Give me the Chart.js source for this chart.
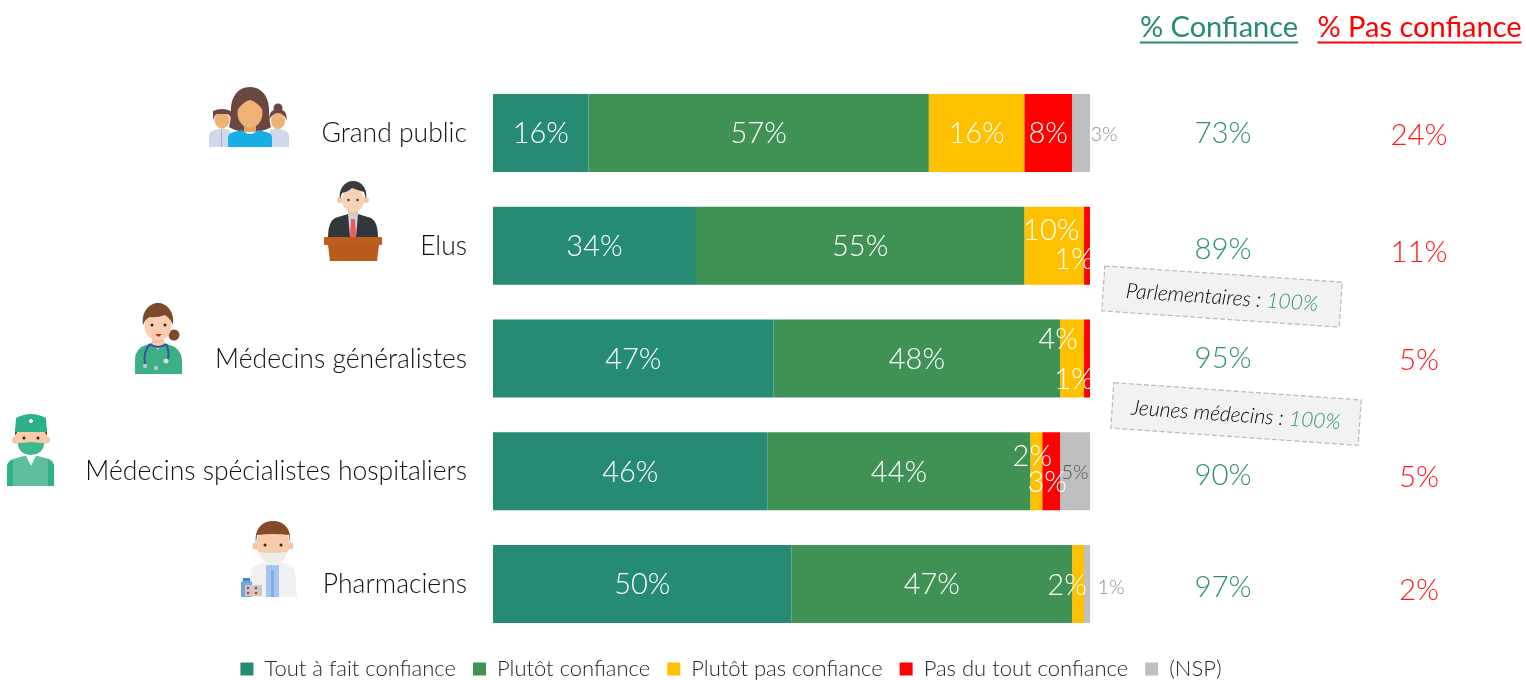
<!DOCTYPE html>
<html lang="fr"><head><meta charset="utf-8"><title>Confiance</title>
<script src="https://cdn.jsdelivr.net/npm/chart.js@4"></script>
<style>html,body{margin:0;padding:0;background:#fff;overflow:hidden}
#wrap{position:relative;width:1526px;height:680px}
canvas{position:absolute;left:0;top:0}
svg{position:absolute;left:0;top:0;pointer-events:none}</style></head>
<body><div id="wrap"><canvas id="c" width="1526" height="680"></canvas>
<svg width="1526" height="680" viewBox="0 0 1526 680">
 <!-- Grand public -->
 <g>
  <path d="M209 147v-11q0-5 6-6l7-2 8 2v17z" fill="#CFD9EA"/><rect x="221" y="130" width="1" height="17" fill="#9FB0C8"/>
  <ellipse cx="222" cy="120" rx="7.5" ry="8.5" fill="#EDB274"/><path d="M213 111q9-4 18 0v7q-2-4-4-4h-10q-2 0-4 6z" fill="#6B4742"/>
  <path d="M289 147v-11q0-5-6-6l-6-2-7 2v17z" fill="#CFD9EA"/>
  <ellipse cx="278" cy="121" rx="7" ry="8" fill="#EDB274"/><circle cx="278" cy="108" r="4.5" fill="#6B4742"/><path d="M269 120q0-11 9-11t9 11q-4-7-9-7t-9 7z" fill="#6B4742"/>
  <path d="M250 87c-13 0-19 11-19 23 0 8-1 13-2 17 4 3 13 5 21 5s17-2 21-5c-1-4-2-9-2-17 0-12-6-23-19-23z" fill="#6B4742"/>
  <path d="M228 147v-9q0-5 6-6l8-2q8 8 16 0l8 2q6 1 6 6v9z" fill="#17AEE6"/>
  <rect x="244" y="122" width="12" height="10" fill="#DFA364"/><ellipse cx="250" cy="113" rx="12.5" ry="15" fill="#EDB274"/><path d="M238 109q6-8 12-9 6 1 12 9v-8l-12-5-12 5z" fill="#6B4742"/>
 </g>
 <!-- Elus -->
 <g>
  <path d="M328 237q0-15 7-19l13-4h10l13 4q7 4 7 19z" fill="#33363A"/>
  <path d="M348 214h10l-2 23h-6z" fill="#C6D4EE"/><path d="M351 219h4l1 18h-6z" fill="#F05A50"/>
  <rect x="348" y="207" width="10" height="9" fill="#EAC3A4"/>
  <circle cx="340" cy="200" r="3" fill="#F2C8A8"/><circle cx="366" cy="200" r="3" fill="#F2C8A8"/>
  <ellipse cx="353" cy="200" rx="11" ry="12.5" fill="#F6D3B6"/>
  <path d="M340 199c-2-10 5-18 13-18s15 7 13 18l-2-7q-7-2-12-4-4 4-10 5z" fill="#3B3B3D"/>
  <circle cx="348.500" cy="200" r="1.200" fill="#3a2a20"/><circle cx="357.500" cy="200" r="1.200" fill="#3a2a20"/>
  <rect x="324" y="237" width="58" height="8" rx="1" fill="#BC5F1E"/><path d="M328 245h51l-2 16h-47z" fill="#B85B1D"/>
 </g>
 <!-- Médecins généralistes -->
 <g>
  <path d="M135 374v-14q0-12 11-15l7-2h10l7 2q11 3 12 15v14z" fill="#3CAF85"/>
  <rect x="152" y="335" width="12" height="10" fill="#F2BFA0"/><path d="M152 343l6 7 6-7z" fill="#F6CDB1"/>
  <circle cx="174" cy="335" r="5.500" fill="#7A4A2B"/>
  <ellipse cx="158" cy="326" rx="13.500" ry="14.500" fill="#F8CDB0"/>
  <path d="M143 325c-2-14 7-22 15-22s17 8 15 22q-3-7-8-10-8 3-15 2-5 2-7 8z" fill="#7A4A2B"/>
  <circle cx="152" cy="325" r="1.500" fill="#3a2018"/><circle cx="165" cy="325" r="1.500" fill="#3a2018"/><path d="M155 334h7l-3.500 3z" fill="#E81818"/>
  <path d="M150 344c-6 6-6 14-5 20M166 344c3 6 3 10 2 15M150 344q8 6 16 0" fill="none" stroke="#3553A4" stroke-width="2"/>
  <circle cx="145" cy="366" r="2.200" fill="#B9C3CE"/><circle cx="156" cy="368" r="2.200" fill="#B9C3CE"/><circle cx="166" cy="361" r="2.500" fill="#D5DBE2"/>
 </g>
 <!-- Médecins spécialistes -->
 <g>
  <path d="M7 486v-19q0-6 6-8l11-3h14l11 3q5 2 5 8v19z" fill="#5DBE9E"/>
  <path d="M7 486v-19q0-5 6-7v26zM54 486v-19q0-5-6-7v26z" fill="#2DB189"/>
  <path d="M26 456l5 10 5-10z" fill="#F3F7F5"/>
  <circle cx="15.500" cy="440" r="3.500" fill="#F6C4A0"/><circle cx="46.500" cy="440" r="3.500" fill="#F6C4A0"/>
  <rect x="16" y="424" width="30" height="25" rx="9" fill="#F8CBAA"/><path d="M15 428h32v8l-3-5h-26l-3 5z" fill="#7B4326"/>
  <path d="M15 432l1-14q8-4 15-4t15 4l1 14z" fill="#2DB18A"/><path d="M29 421h4M31 419v4" stroke="#fff" stroke-width="2.200"/>
  <circle cx="24" cy="438" r="1.500" fill="#3a2018"/><circle cx="38" cy="438" r="1.500" fill="#3a2018"/>
  <path d="M18 443q6 0 13-1 7 1 13 1 0 11-13 12-13-1-13-12z" fill="#3DB88F"/>
 </g>
 <!-- Pharmaciens -->
 <g>
  <path d="M248 597l3-26q1-5 8-7l9-2h10l9 2q7 2 8 7l2 26z" fill="#F1F1F1"/>
  <path d="M266 565h13v32h-13z" fill="#A3C6EE"/><path d="M271 570h3v27h-3z" fill="#7FAEE3"/>
  <circle cx="256" cy="546" r="3.500" fill="#F6C4A0"/><circle cx="290" cy="546" r="3.500" fill="#F6C4A0"/>
  <rect x="257" y="530" width="32" height="27" rx="10" fill="#F8CBAA"/><path d="M256 543c-2-15 7-22 17-22s19 7 17 22l-1-8q-16-2-32 0z" fill="#854A28"/>
  <circle cx="265" cy="545" r="1.500" fill="#3a2018"/><circle cx="281" cy="545" r="1.500" fill="#3a2018"/>
  <path d="M259 552q14 2 28 0-1 11-14 12-13-1-14-12z" fill="#EEEDEA"/>
  <rect x="241" y="581" width="11" height="16" rx="1.500" fill="#6FA7E6"/><rect x="243" y="578" width="7" height="3" fill="#3E83D4"/>
  <rect x="245" y="585" width="17" height="11" fill="#C9CDC5"/>
  <circle cx="248" cy="588" r="1.300" fill="#E8262B"/><circle cx="256" cy="588" r="1.300" fill="#E8262B"/><circle cx="248" cy="593" r="1.300" fill="#E8262B"/><circle cx="256" cy="593" r="1.300" fill="#E8262B"/>
 </g>
</svg></div>
<script>
const categories = ["Grand public", "Elus", "Médecins généralistes", "Médecins spécialistes hospitaliers", "Pharmaciens"];
const seriesNames = ["Tout à fait confiance", "Plutôt confiance", "Plutôt pas confiance", "Pas du tout confiance", "(NSP)"];
const toutAFait = [16, 34, 47, 46, 50];
const plutot = [57, 55, 48, 44, 47];
const plutotPas = [16, 10, 4, 2, 2];
const pasDuTout = [8, 1, 1, 3, 0];
const nsp = [3, 0, 0, 5, 1];
const pctConfiance = [73, 89, 95, 90, 97];
const pctPasConfiance = [24, 11, 5, 5, 2];
const colors = ["#268B73", "#3F9254", "#FFC000", "#FF0000", "#BFBFBF"];
const allSeries = [toutAFait, plutot, plutotPas, pasDuTout, nsp];

const FONT = "Lato, 'Open Sans', sans-serif";
const GREEN = "#2F9077", RED = "#FF1A1A";
// label nudges [series][row] => [dx, dy]
const nudges = {
  "2,1": [-3, -15], "3,1": [-13, 14],
  "2,2": [-14, -19], "3,2": [-13, 21],
  "2,3": [-4, -15], "3,3": [-4, 11],
  "2,4": [-11, 2],
  "4,0": [23, 2], "4,4": [24, 4]
};
const confDy = [1, 4, 0, 4.5, 4];
const pasDy = [3, 7, 2, 6.5, 7];

function note(ctx, cx, cy, w, h, deg, label, value) {
  ctx.save();
  ctx.translate(cx, cy); ctx.rotate(deg * Math.PI / 180);
  ctx.fillStyle = "#F2F2F2"; ctx.fillRect(-w / 2, -h / 2, w, h);
  ctx.strokeStyle = "#BDBDBD"; ctx.lineWidth = 1.3; ctx.setLineDash([5, 2.5]);
  ctx.strokeRect(-w / 2, -h / 2, w, h); ctx.setLineDash([]);
  ctx.font = "italic 300 21px " + FONT; ctx.textBaseline = "middle"; ctx.textAlign = "left";
  const a = ctx.measureText(label).width, b = ctx.measureText(value).width;
  const x = -(a + b) / 2;
  ctx.fillStyle = "#000"; ctx.fillText(label, x, 1);
  ctx.fillStyle = GREEN; ctx.fillText(value, x + a, 1);
  ctx.restore();
}
function header(ctx, text, cx, y, color) {
  ctx.font = "400 29px " + FONT; ctx.fillStyle = color; ctx.textAlign = "center"; ctx.textBaseline = "middle";
  ctx.fillText(text, cx, y);
  const w = ctx.measureText(text).width;
  ctx.fillRect(cx - w / 2, y + 13.5, w, 2);
}

const overlay = {
  id: "overlay",
  beforeLayout(chart) {
    const lg = chart.legend;
    if (lg && !lg._wrapped) {
      const f = lg.fit.bind(lg);
      lg.fit = function () { f(); lg.height = 39.65; };
      lg._wrapped = true;
    }
  },
  afterLayout(chart) {
    const lg = chart.legend;
    lg.left += 186; lg.right += 186;
    lg.top = 658 - lg.options.labels.padding;
  },
  afterDatasetsDraw(chart) {
    const ctx = chart.ctx, xs = chart.scales.x, ys = chart.scales.y;
    ctx.save();
    allSeries.forEach((vals, s) => {
      const meta = chart.getDatasetMeta(s);
      vals.forEach((v, r) => {
        if (!v) return;
        const bar = meta.data[r];
        const n = nudges[s + "," + r] || [0, 1];
        const mid = (bar.x + bar.base) / 2;
        ctx.textAlign = "center"; ctx.textBaseline = "middle";
        if (s === 4) {
          ctx.font = "300 20px " + FONT;
          ctx.fillStyle = r === 3 ? "#555" : "#8F8F8F";
        } else {
          ctx.font = "300 29px " + FONT;
          ctx.fillStyle = "#fff";
        }
        ctx.fillText(v + "%", mid + n[0], bar.y + n[1]);
      });
    });
    ctx.font = "300 29.5px " + FONT; ctx.textAlign = "center"; ctx.textBaseline = "middle";
    categories.forEach((c, r) => {
      const y = ys.getPixelForValue(r);
      ctx.fillStyle = GREEN; ctx.fillText(pctConfiance[r] + "%", 1223, y + confDy[r]);
      ctx.fillStyle = RED; ctx.fillText(pctPasConfiance[r] + "%", 1419, y + pasDy[r]);
    });
    header(ctx, "% Confiance", 1219, 28, "#268B73");
    header(ctx, "% Pas confiance", 1419.5, 28, "#FF0000");
    note(ctx, 1222, 296.5, 238, 45, 3.9, "Parlementaires : ", "100%");
    note(ctx, 1236, 414, 248, 45.5, 4, "Jeunes médecins : ", "100%");
    ctx.restore();
  }
};

new Chart(document.getElementById("c"), {
  type: "bar",
  plugins: [overlay],
  data: {
    labels: categories,
    datasets: allSeries.map((d, i) => ({
      label: seriesNames[i], data: d, backgroundColor: colors[i], borderWidth: 0,
      categoryPercentage: 1, barPercentage: 0.692
    }))
  },
  options: {
    indexAxis: "y", responsive: false, animation: false,
    layout: { padding: { top: 76.6, right: 436, left: 0, bottom: 0 } },
    scales: {
      x: { stacked: true, min: 0, max: 100, display: false, grid: { display: false } },
      y: {
        stacked: true, border: { display: false }, grid: { display: false, drawTicks: false },
        afterFit(s) { s.width = 493; s.paddingTop = 0; s.paddingBottom = 0; },
        ticks: { color: "#111", font: { family: FONT, size: 26.5, weight: "300" }, padding: 26, labelOffset: 0.5, autoSkip: false, crossAlign: "near" }
      }
    },
    plugins: {
      tooltip: { enabled: false },
      legend: {
        position: "bottom",
        labels: { boxWidth: 13, boxHeight: 13, padding: 17, color: "#262626", font: { family: FONT, size: 22, weight: "300" } }
      }
    }
  }
});
</script></body></html>
